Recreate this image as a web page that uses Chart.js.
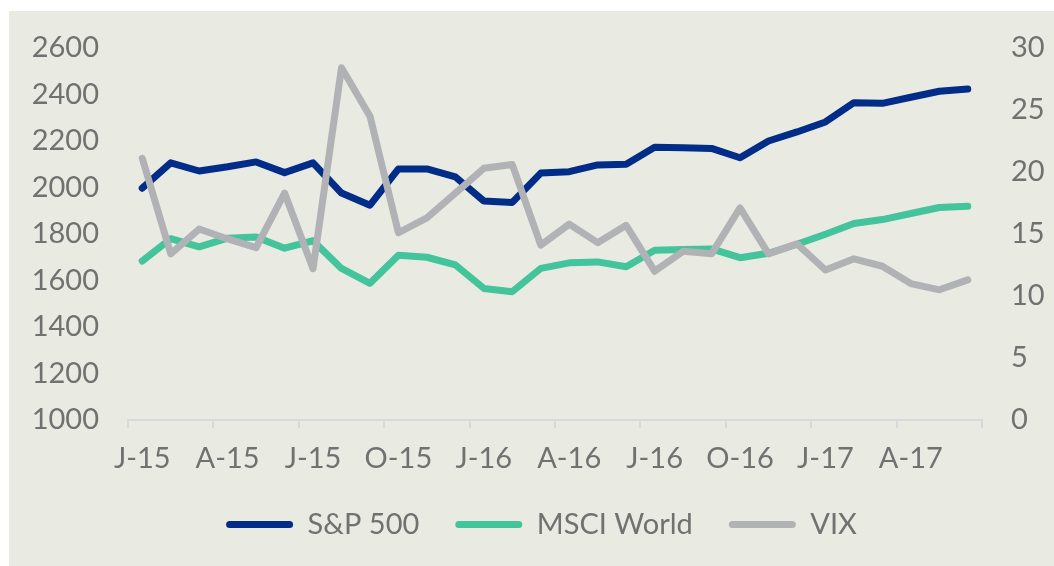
<!DOCTYPE html>
<html>
<head>
<meta charset="utf-8">
<script src="https://cdn.jsdelivr.net/npm/chart.js@4/dist/chart.umd.min.js"></script>
<style>
  html, body { margin: 0; padding: 0; background: #ffffff; }
  #panel {
    position: absolute; left: 9px; top: 11px;
    width: 1045px; height: 555px;
    background: #e9eae1;
  }
</style>
</head>
<body>
<div id="panel"><canvas id="chart" width="1045" height="555"></canvas></div>
<script>
// month labels, Jan 2015 .. Jun 2017 (only every third one is shown)
const months = [
  'J-15', 'F-15', 'M-15', 'A-15', 'M-15', 'J-15', 'J-15', 'A-15', 'S-15', 'O-15', 'N-15', 'D-15',
  'J-16', 'F-16', 'M-16', 'A-16', 'M-16', 'J-16', 'J-16', 'A-16', 'S-16', 'O-16', 'N-16', 'D-16',
  'J-17', 'F-17', 'M-17', 'A-17', 'M-17', 'J-17'
];

const sp500 = [
  1997, 2106, 2071, 2089, 2110, 2064, 2106, 1976, 1924, 2080, 2080, 2046,
  1942, 1936, 2062, 2068, 2097, 2100, 2173, 2171, 2168, 2128, 2200, 2239,
  2282, 2365, 2362, 2388, 2414, 2424
];

const msciWorld = [
  1684, 1780, 1745, 1782, 1787, 1739, 1771, 1652, 1588, 1709, 1700, 1667,
  1566, 1552, 1652, 1676, 1680, 1659, 1730, 1733, 1736, 1698, 1717, 1756,
  1799, 1845, 1862, 1888, 1914, 1919
];

const vix = [
  21.1, 13.4, 15.4, 14.6, 13.9, 18.3, 12.2, 28.4, 24.5, 15.1, 16.3, 18.3,
  20.3, 20.6, 14.1, 15.8, 14.3, 15.7, 12.0, 13.6, 13.4, 17.1, 13.4, 14.2,
  12.1, 13.0, 12.4, 11.0, 10.5, 11.3
];

const textColor = '#717171';
const axisColor = '#d8d9dc';
const font = { family: 'Lato, "Noto Sans", sans-serif', size: 29 };

const ctx = document.getElementById('chart').getContext('2d');
new Chart(ctx, {
  type: 'line',
  data: {
    labels: months,
    datasets: [
      {
        label: 'S&P 500', data: sp500, yAxisID: 'y', order: 3,
        borderColor: '#012d89', backgroundColor: '#012d89'
      },
      {
        label: 'MSCI World', data: msciWorld, yAxisID: 'y', order: 2,
        borderColor: '#43c49b', backgroundColor: '#43c49b'
      },
      {
        label: 'VIX', data: vix, yAxisID: 'y1', order: 1,
        borderColor: '#b1b2b6', backgroundColor: '#b1b2b6'
      }
    ]
  },
  options: {
    responsive: false,
    animation: false,
    layout: { padding: { top: 37, left: 20, right: 0, bottom: 17 } },
    elements: {
      point: { radius: 0 },
      line: { borderWidth: 7, tension: 0, borderCapStyle: 'round', borderJoinStyle: 'round' }
    },
    plugins: {
      tooltip: { enabled: false },
      legend: {
        position: 'bottom',
        labels: {
          font: font,
          color: textColor,
          boxWidth: 67,
          boxHeight: 7,
          useBorderRadius: true,
          borderRadius: 3.5,
          padding: 36,
          sort: (a, b) => a.datasetIndex - b.datasetIndex,
          generateLabels: (chart) => {
            const items = Chart.defaults.plugins.legend.labels.generateLabels(chart);
            items.forEach(it => { it.lineWidth = 0; });
            return items;
          }
        }
      }
    },
    scales: {
      x: {
        offset: true,
        grid: {
          offset: true,
          drawOnChartArea: false,
          drawTicks: true,
          tickLength: 8,
          lineWidth: 2,
          color: (c) => (c.index === undefined || c.index % 3 === 0) ? axisColor : 'rgba(0,0,0,0)'
        },
        border: { display: true, color: axisColor, width: 2 },
        ticks: {
          autoSkip: false,
          maxRotation: 0,
          padding: 13,
          font: font,
          color: textColor,
          callback: function (value, index) {
            return index % 3 === 0 ? this.getLabelForValue(value) : '';
          }
        },
        afterFit: (s) => { s.height = 54; }
      },
      y: {
        position: 'left',
        min: 1000, max: 2600,
        // gap to the labels comes from the (hidden) tick length, keeps top padding small
        ticks: { stepSize: 200, padding: 0, font: font, color: textColor, callback: (v) => String(v) },
        grid: { display: false, drawTicks: true, tickLength: 29 },
        border: { display: false },
        afterFit: (s) => { s.width = 99; }
      },
      y1: {
        position: 'right',
        min: 0, max: 30,
        ticks: { stepSize: 5, padding: 0, font: font, color: textColor, callback: (v) => String(v) },
        grid: { display: false, drawTicks: true, tickLength: 29 },
        border: { display: false },
        afterFit: (s) => { s.width = 72; }
      }
    }
  }
});
</script>
</body>
</html>
